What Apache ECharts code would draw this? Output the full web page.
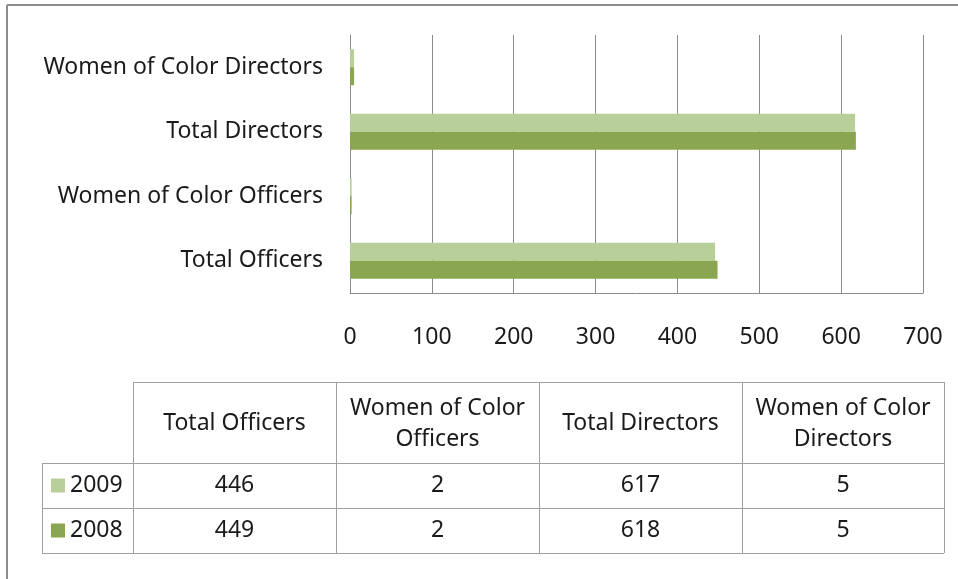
<!DOCTYPE html>
<html><head><meta charset="utf-8">
<script src="https://cdn.jsdelivr.net/npm/echarts@6/dist/echarts.min.js"></script>
<style>html,body{margin:0;padding:0;background:#fff;}#c{width:958px;height:579px;}</style>
</head><body><div id="c"></div>
<script>
// ---- data ----
const categories = ['Total Officers', 'Women of Color Officers', 'Total Directors', 'Women of Color Directors'];
const headerLabels = [['Total Officers'], ['Women of Color', 'Officers'], ['Total Directors'], ['Women of Color', 'Directors']];
const seriesNames = ['2009', '2008'];
const values2009 = [446, 2, 617, 5];
const values2008 = [449, 2, 618, 5];
const xTicks = [0, 100, 200, 300, 400, 500, 600, 700];

// ---- style ----
const FONT = 'Noto Sans';
const FS = 23;
const TXT = '#1a1a1a';
const colors = ['#B9CF9A', '#8BA650'];
const grey = '#8a8a8a';
const tblBorder = '#a0a0a0';

// table layout
const colX = [133, 336, 539, 742, 944];
const legendX = 42;
const rowY = [382, 463, 508, 553];

const graphics = [];
// outer frame (top and left)
graphics.push({type: 'line', shape: {x1: 7, y1: 5, x2: 958, y2: 5}, style: {stroke: '#8c8c8c', lineWidth: 2}, silent: true});
graphics.push({type: 'line', shape: {x1: 7, y1: 5, x2: 7, y2: 579}, style: {stroke: '#8c8c8c', lineWidth: 2}, silent: true});
// table lines
const hl = (x1, x2, y) => graphics.push({type: 'line', shape: {x1, y1: y + 0.5, x2, y2: y + 0.5}, style: {stroke: tblBorder, lineWidth: 1}, silent: true});
const vl = (x, y1, y2) => graphics.push({type: 'line', shape: {x1: x + 0.5, y1, x2: x + 0.5, y2}, style: {stroke: tblBorder, lineWidth: 1}, silent: true});
hl(colX[0], colX[4], rowY[0]);
hl(legendX, colX[4], rowY[1]);
hl(legendX, colX[4], rowY[2]);
hl(legendX, colX[4], rowY[3]);
colX.forEach(x => vl(x, rowY[0], rowY[3]));
vl(legendX, rowY[1], rowY[3]);
const font = FS + 'px "' + FONT + '"';
// header text
headerLabels.forEach((lines, i) => {
  graphics.push({type: 'text', x: (colX[i] + colX[i + 1]) / 2, y: (rowY[0] + rowY[1]) / 2 + 1,
    style: {text: lines.join('\n'), font, fill: TXT, align: 'center', verticalAlign: 'middle', lineHeight: 31}, silent: true});
});
// data rows
[values2009, values2008].forEach((vals, r) => {
  const cy = (rowY[r + 1] + rowY[r + 2]) / 2;
  graphics.push({type: 'rect', shape: {x: 51, y: cy - 7, width: 14, height: 14}, style: {fill: colors[r]}, silent: true});
  graphics.push({type: 'text', x: 70, y: cy, style: {text: seriesNames[r], font, fill: TXT, align: 'left', verticalAlign: 'middle'}, silent: true});
  vals.forEach((v, i) => {
    graphics.push({type: 'text', x: (colX[i] + colX[i + 1]) / 2, y: cy,
      style: {text: String(v), font, fill: TXT, align: 'center', verticalAlign: 'middle'}, silent: true});
  });
});

const chart = echarts.init(document.getElementById('c'), null, {renderer: 'canvas'});
chart.setOption({
  animation: false,
  backgroundColor: '#fff',
  textStyle: {fontFamily: FONT},
  grid: {left: 350, right: 35, top: 35, bottom: 286, containLabel: false},
  xAxis: {
    type: 'value', min: xTicks[0], max: xTicks[xTicks.length - 1], interval: 100,
    axisLine: {show: true, lineStyle: {color: grey}}, axisTick: {show: false},
    axisLabel: {fontSize: FS, color: TXT, margin: 33, fontFamily: FONT},
    splitLine: {show: true, lineStyle: {color: grey, width: 1}}
  },
  yAxis: {
    type: 'category', data: categories,
    axisLine: {show: true, lineStyle: {color: grey}}, axisTick: {show: false},
    axisLabel: {fontSize: FS, color: TXT, margin: 27, fontFamily: FONT}
  },
  series: [
    {name: seriesNames[0], type: 'bar', data: values2009, barWidth: 18, barGap: '0%', itemStyle: {color: colors[0]}},
    {name: seriesNames[1], type: 'bar', data: values2008, barWidth: 18, barGap: '0%', itemStyle: {color: colors[1]}}
  ],
  graphic: graphics
});
</script></body></html>
